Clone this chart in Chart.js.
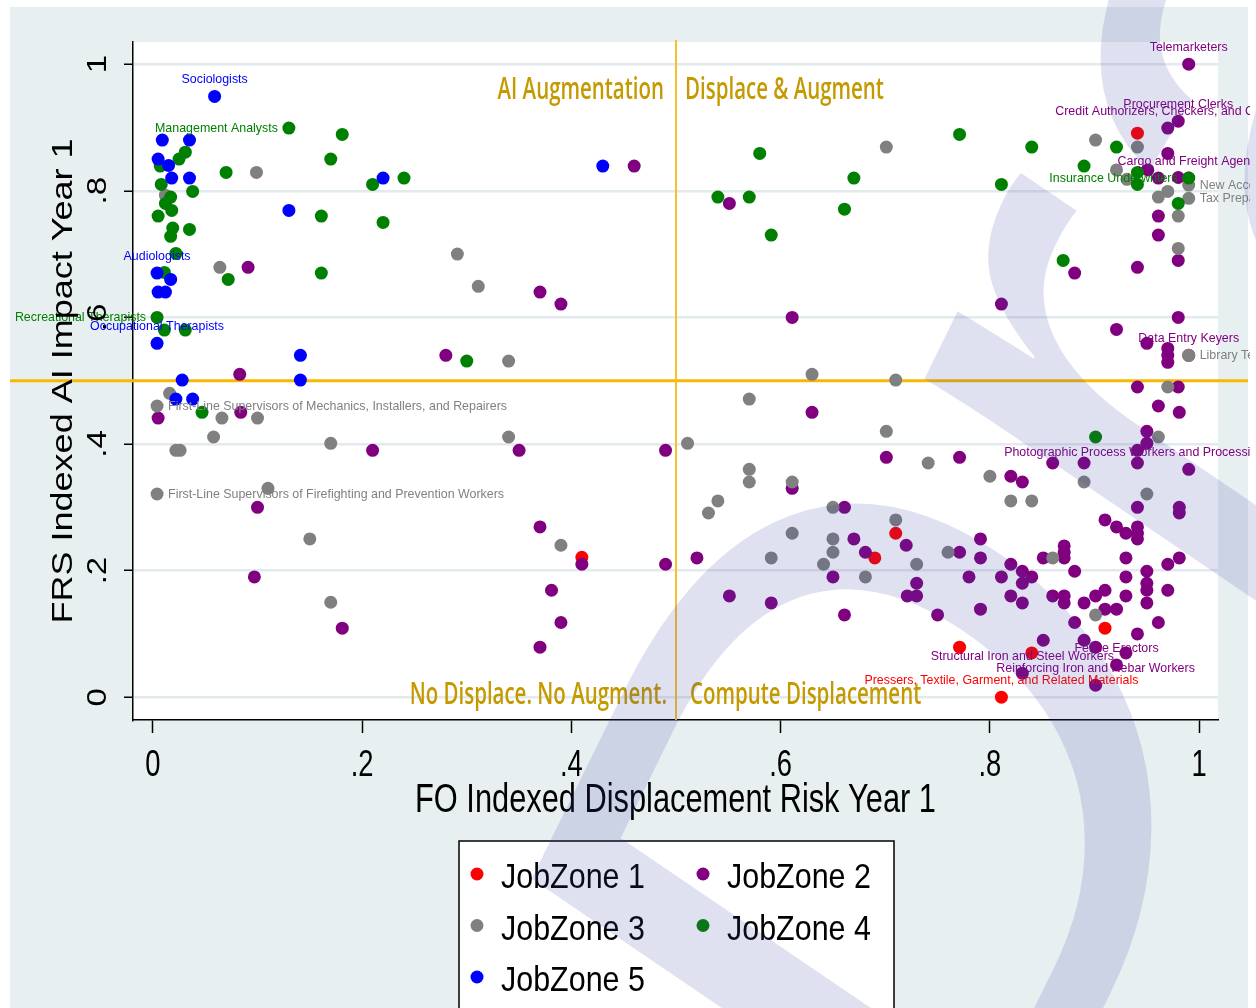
<!DOCTYPE html>
<html>
<head>
<meta charset="utf-8">
<title>Displacement risk vs AI impact</title>
<script src="https://cdn.jsdelivr.net/npm/chart.js@4.4.0/dist/chart.umd.min.js"></script>
<style>
  html, body { margin: 0; padding: 0; background: #fff; }
  #wrap { width: 1256px; height: 1008px; }
</style>
</head>
<body>
<div id="wrap"><canvas id="chart" width="1256" height="1008"></canvas></div>
<script>
// ---- data ----
const xTicks = [0, 0.2, 0.4, 0.6, 0.8, 1];
const xTickLabels = ['0', '.2', '.4', '.6', '.8', '1'];
const yTicks = [0, 0.2, 0.4, 0.6, 0.8, 1];
const yTickLabels = ['0', '.2', '.4', '.6', '.8', '1'];
const xTitle = 'FO Indexed Displacement Risk Year 1';
const yTitle = 'FRS Indexed AI Impact Year 1';
const quadrantNames = ['AI Augmentation', 'Displace & Augment', 'No Displace. No Augment.', 'Compute Displacement'];
const zoneLabels = ['JobZone 1', 'JobZone 2', 'JobZone 3', 'JobZone 4', 'JobZone 5'];

// first points of each zone carry the names below
const zone1Names = ['Pressers, Textile, Garment, and Related Materials'];
const zone1 = [
  [0.811, 0.000], [0.840, 0.070], [0.771, 0.079], [0.910, 0.109], [0.941, 0.891],
  [0.710, 0.259], [0.690, 0.220], [0.410, 0.221]
];

const zone2Names = ['Telemarketers', 'Procurement Clerks', 'Credit Authorizers, Checkers, and Clerks',
  'Cargo and Freight Agents', 'Data Entry Keyers',
  'Photographic Process Workers and Processing Machine Operators', 'Fence Erectors',
  'Reinforcing Iron and Rebar Workers', 'Structural Iron and Steel Workers'];
const zone2 = [
  [0.990, 1.000], [0.980, 0.910], [0.970, 0.899], [0.990, 0.820], [0.990, 0.540],
  [0.990, 0.360], [0.921, 0.051], [0.901, 0.019], [0.831, 0.038],
  [0.091, 0.679], [0.370, 0.640], [0.280, 0.540], [0.083, 0.510], [0.005, 0.441],
  [0.084, 0.450], [0.210, 0.390], [0.350, 0.390], [0.100, 0.300], [0.370, 0.269],
  [0.097, 0.190], [0.181, 0.109], [0.370, 0.079], [0.460, 0.839], [0.390, 0.621],
  [0.611, 0.600], [0.551, 0.780], [0.490, 0.390], [0.630, 0.450], [0.701, 0.379],
  [0.611, 0.330], [0.661, 0.300], [0.670, 0.250], [0.681, 0.229], [0.720, 0.240],
  [0.410, 0.210], [0.490, 0.210], [0.520, 0.220], [0.650, 0.190], [0.381, 0.169],
  [0.551, 0.160], [0.591, 0.149], [0.661, 0.130], [0.390, 0.118], [0.721, 0.160],
  [0.730, 0.180], [0.730, 0.160],
  [0.970, 0.859], [0.951, 0.833], [0.961, 0.820], [0.980, 0.821], [0.961, 0.760],
  [0.961, 0.730], [0.980, 0.690], [0.881, 0.670], [0.941, 0.679], [0.811, 0.621],
  [0.980, 0.600], [0.921, 0.581], [0.950, 0.559], [0.970, 0.551], [0.970, 0.540],
  [0.970, 0.529], [0.941, 0.490], [0.980, 0.490],
  [0.961, 0.460], [0.981, 0.450], [0.771, 0.379], [0.950, 0.420], [0.950, 0.401],
  [0.941, 0.390], [0.941, 0.370], [0.860, 0.370], [0.890, 0.370], [0.820, 0.349],
  [0.831, 0.340], [0.941, 0.300], [0.981, 0.300], [0.981, 0.291], [0.910, 0.280],
  [0.921, 0.269], [0.930, 0.259], [0.941, 0.269], [0.941, 0.259], [0.941, 0.250],
  [0.791, 0.250], [0.771, 0.229], [0.791, 0.220], [0.871, 0.239], [0.871, 0.229],
  [0.871, 0.220], [0.851, 0.220], [0.930, 0.220], [0.981, 0.220], [0.970, 0.210],
  [0.750, 0.130], [0.780, 0.190], [0.791, 0.139], [0.811, 0.190], [0.820, 0.210],
  [0.831, 0.199], [0.840, 0.190], [0.831, 0.180], [0.820, 0.160], [0.831, 0.149],
  [0.881, 0.199], [0.860, 0.160], [0.871, 0.160], [0.871, 0.149], [0.881, 0.118],
  [0.890, 0.149], [0.901, 0.160], [0.910, 0.169], [0.910, 0.139], [0.921, 0.139],
  [0.930, 0.190], [0.930, 0.160], [0.950, 0.199], [0.950, 0.180], [0.950, 0.169],
  [0.950, 0.149], [0.970, 0.169], [0.961, 0.118], [0.941, 0.100], [0.851, 0.090],
  [0.890, 0.090], [0.901, 0.079], [0.930, 0.070]
];

const zone3Names = ['First-Line Supervisors of Mechanics, Installers, and Repairers',
  'First-Line Supervisors of Firefighting and Prevention Workers',
  'New Accounts Clerks', 'Tax Preparers', 'Library Technicians'];
const zone3 = [
  [0.004, 0.460], [0.004, 0.321], [0.990, 0.809], [0.990, 0.788], [0.990, 0.540],
  [0.099, 0.829], [0.064, 0.679], [0.291, 0.700], [0.311, 0.649], [0.340, 0.531],
  [0.016, 0.480], [0.066, 0.441], [0.100, 0.441], [0.058, 0.411], [0.022, 0.390],
  [0.026, 0.390], [0.170, 0.401], [0.340, 0.411], [0.110, 0.330], [0.150, 0.250],
  [0.170, 0.150], [0.390, 0.240], [0.701, 0.869], [0.630, 0.510], [0.710, 0.501],
  [0.570, 0.471], [0.511, 0.401], [0.701, 0.420], [0.570, 0.360], [0.570, 0.340],
  [0.540, 0.310], [0.531, 0.291], [0.611, 0.340], [0.650, 0.300], [0.710, 0.280],
  [0.611, 0.259], [0.650, 0.250], [0.650, 0.229], [0.641, 0.210], [0.591, 0.220],
  [0.681, 0.190], [0.730, 0.210], [0.901, 0.880], [0.941, 0.869], [0.921, 0.833],
  [0.931, 0.818], [0.970, 0.799], [0.961, 0.790], [0.980, 0.760], [0.980, 0.709],
  [0.970, 0.490], [0.741, 0.370], [0.961, 0.411], [0.800, 0.349], [0.890, 0.340],
  [0.950, 0.321], [0.820, 0.310], [0.840, 0.310], [0.760, 0.229], [0.860, 0.220],
  [0.901, 0.130], [0.012, 0.793]
];

const zone4Names = ['Management Analysts', 'Recreational Therapists', 'Insurance Underwriters'];
const zone4 = [
  [0.130, 0.899], [0.004, 0.600], [0.990, 0.820],
  [0.181, 0.889], [0.031, 0.861], [0.025, 0.850], [0.007, 0.839], [0.070, 0.829],
  [0.170, 0.850], [0.210, 0.810], [0.240, 0.820], [0.008, 0.810], [0.038, 0.799],
  [0.017, 0.790], [0.012, 0.780], [0.018, 0.769], [0.005, 0.760], [0.161, 0.760],
  [0.220, 0.750], [0.019, 0.741], [0.035, 0.739], [0.017, 0.728], [0.022, 0.701],
  [0.011, 0.671], [0.072, 0.660], [0.161, 0.670], [0.011, 0.580], [0.031, 0.580],
  [0.300, 0.531], [0.047, 0.450], [0.580, 0.859], [0.670, 0.820], [0.540, 0.790],
  [0.570, 0.790], [0.661, 0.771], [0.591, 0.730], [0.771, 0.889], [0.840, 0.869],
  [0.921, 0.869], [0.890, 0.839], [0.811, 0.810], [0.941, 0.829], [0.941, 0.810],
  [0.980, 0.780], [0.870, 0.690], [0.901, 0.411]
];

const zone5Names = ['Sociologists', 'Audiologists', 'Occupational Therapists'];
const zone5 = [
  [0.059, 0.949], [0.004, 0.670], [0.004, 0.559],
  [0.009, 0.880], [0.035, 0.880], [0.005, 0.850], [0.015, 0.840], [0.018, 0.820],
  [0.035, 0.820], [0.130, 0.769], [0.220, 0.820], [0.017, 0.660], [0.005, 0.640],
  [0.012, 0.640], [0.141, 0.540], [0.141, 0.501], [0.028, 0.501], [0.022, 0.471],
  [0.038, 0.471], [0.430, 0.839]
];

// ---- styling ----
const zones = [zone1, zone2, zone3, zone4, zone5];
const zoneNames = [zone1Names, zone2Names, zone3Names, zone4Names, zone5Names];
const zoneColors = ['#ff0000', '#800080', '#808080', '#008000', '#0000ff'];
const labelSide = {
  'Management Analysts': 'left', 'Recreational Therapists': 'left', 'Insurance Underwriters': 'left',
  'First-Line Supervisors of Mechanics, Installers, and Repairers': 'right',
  'First-Line Supervisors of Firefighting and Prevention Workers': 'right',
  'New Accounts Clerks': 'right', 'Tax Preparers': 'right', 'Library Technicians': 'right'
};
const SANS = '"Liberation Sans", Arial, sans-serif';
const GOLD_TEXT = '#c49a00';
const GOLD_LINE = '#f7b800';

function drawText(ctx, text, x, y, o) {
  ctx.save();
  ctx.translate(x, y);
  if (o.rotate) ctx.rotate(o.rotate);
  ctx.scale(o.sx || 1, o.sy || 1);
  ctx.font = o.font;
  ctx.fillStyle = o.color || '#000';
  ctx.textAlign = o.align || 'left';
  ctx.textBaseline = o.baseline || 'middle';
  ctx.fillText(text, 0, 0);
  ctx.restore();
}

const stataLook = {
  id: 'stataLook',
  beforeDraw(chart) {
    const { ctx, chartArea: a, width, height } = chart;
    ctx.save();
    ctx.fillStyle = '#ffffff';
    ctx.fillRect(0, 0, width, height);
    ctx.fillStyle = '#e8eff1';
    ctx.fillRect(10, 7, 1238, height - 7);
    ctx.fillStyle = '#ffffff';
    ctx.fillRect(a.left, a.top, a.right - a.left, a.bottom - a.top);
    ctx.restore();
  },
  beforeDatasetsDraw(chart) {
    const { ctx, chartArea: a, scales } = chart;
    const yMid = scales.y.getPixelForValue(0.5);
    const xMid = scales.x.getPixelForValue(0.5);
    ctx.save();
    ctx.strokeStyle = GOLD_LINE;
    ctx.lineWidth = 3;
    ctx.beginPath();
    ctx.moveTo(10, yMid);
    ctx.lineTo(1248, yMid);
    ctx.stroke();
    ctx.lineWidth = 2;
    ctx.strokeStyle = '#f5c02a';
    ctx.beginPath();
    ctx.moveTo(xMid, a.top - 2);
    ctx.lineTo(xMid, a.bottom);
    ctx.stroke();
    ctx.restore();
  },
  afterDatasetsDraw(chart) {
    const { ctx, scales, chartArea: a } = chart;
    ctx.save();
    ctx.beginPath();
    ctx.rect(0, 0, 1250, chart.height);
    ctx.clip();
    chart.data.datasets.forEach((ds, i) => {
      const meta = chart.getDatasetMeta(i);
      zoneNames[i].forEach((name, j) => {
        const p = meta.data[j];
        const side = labelSide[name] || 'top';
        const o = { font: '13.5px ' + SANS, color: zoneColors[i], sx: 0.92 };
        if (side === 'top') drawText(ctx, name, p.x, p.y - 17, { ...o, align: 'center' });
        else if (side === 'left') drawText(ctx, name, p.x - 11, p.y, { ...o, align: 'right' });
        else drawText(ctx, name, p.x + 11, p.y, { ...o, align: 'left' });
      });
    });
    ctx.restore();

    // quadrant captions
    const xMid = scales.x.getPixelForValue(0.5);
    const q = { font: '600 31px "Open Sans", ' + SANS, color: GOLD_TEXT, sx: 0.66 };
    drawText(ctx, quadrantNames[0], xMid - 12, a.top + 48, { ...q, align: 'right' });
    drawText(ctx, quadrantNames[1], xMid + 9, a.top + 48, { ...q, align: 'left' });
    drawText(ctx, quadrantNames[2], xMid - 9, a.bottom - 25, { ...q, align: 'right' });
    drawText(ctx, quadrantNames[3], xMid + 14, a.bottom - 25, { ...q, align: 'left' });
  },
  afterDraw(chart) {
    const { ctx, scales, chartArea: a } = chart;
    // tick labels
    xTicks.forEach((v, i) => drawText(ctx, xTickLabels[i], scales.x.getPixelForValue(v), a.bottom + 46,
      { font: '36px ' + SANS, sx: 0.76, align: 'center' }));
    yTicks.forEach((v, i) => drawText(ctx, yTickLabels[i], 99, scales.y.getPixelForValue(v),
      { font: '33px ' + SANS, sy: 0.82, rotate: -Math.PI / 2, align: 'center' }));
    // axis titles
    drawText(ctx, xTitle, (a.left + a.right) / 2, a.bottom + 81,
      { font: '40px ' + SANS, sx: 0.77, align: 'center' });
    drawText(ctx, yTitle, 64, (a.top + a.bottom) / 2,
      { font: '36px ' + SANS, sy: 0.82, rotate: -Math.PI / 2, align: 'center' });

    // legend box
    ctx.save();
    ctx.fillStyle = '#ffffff';
    ctx.strokeStyle = '#000000';
    ctx.lineWidth = 1.5;
    ctx.fillRect(459, 841, 435, 180);
    ctx.strokeRect(459, 841, 435, 180);
    chart.data.datasets.forEach((ds, i) => {
      const col = i % 2, row = Math.floor(i / 2);
      const mx = col === 0 ? 477 : 703;
      const my = 874 + row * 51.5;
      ctx.fillStyle = ds.backgroundColor;
      ctx.beginPath();
      ctx.arc(mx, my, 6.5, 0, Math.PI * 2);
      ctx.fill();
      drawText(ctx, ds.label, mx + 24, my + 14,
        { font: '35px ' + SANS, sx: 0.87, align: 'left', baseline: 'alphabetic' });
    });
    ctx.restore();

    // "Draft" watermark (huge, only "D" and part of "r" fall inside the page)
    ctx.save();
    ctx.translate(975, 1269);
    ctx.scale(0.85, 1);
    ctx.rotate(-60 * Math.PI / 180);
    ctx.font = '940px ' + SANS;
    ctx.fillStyle = 'rgba(60, 70, 160, 0.16)';
    ctx.textAlign = 'left';
    ctx.textBaseline = 'alphabetic';
    ctx.fillText('Draft', 0, 0);
    ctx.restore();
  }
};

new Chart(document.getElementById('chart'), {
  type: 'scatter',
  data: {
    datasets: zones.map((pts, i) => ({
      label: zoneLabels[i],
      data: pts.map(p => ({ x: p[0], y: p[1] })),
      backgroundColor: zoneColors[i],
      borderWidth: 0,
      pointRadius: 6.5,
      pointHoverRadius: 6.5,
      order: zones.length - i
    }))
  },
  options: {
    responsive: false,
    animation: false,
    layout: { padding: { left: 0, top: 42, right: 38, bottom: 0 } },
    plugins: { legend: { display: false }, tooltip: { enabled: false } },
    scales: {
      x: {
        type: 'linear', min: -0.019, max: 1.018,
        afterBuildTicks: s => { s.ticks = xTicks.map(v => ({ value: v })); },
        afterFit: s => { s.height = 288; },
        ticks: { display: false },
        grid: { drawOnChartArea: false, drawTicks: true, tickLength: 13, tickColor: '#000', tickWidth: 1.5 },
        border: { display: true, color: '#000', width: 1.5 }
      },
      y: {
        type: 'linear', min: -0.036, max: 1.035,
        afterBuildTicks: s => { s.ticks = yTicks.map(v => ({ value: v })); },
        afterFit: s => { s.width = 133; },
        ticks: { display: false },
        grid: { color: '#e2eaee', lineWidth: 2.5, drawTicks: true, tickLength: 9, tickColor: '#000', tickWidth: 1.5 },
        border: { display: true, color: '#000', width: 1.5 }
      }
    }
  },
  plugins: [stataLook]
});
</script>
</body>
</html>
